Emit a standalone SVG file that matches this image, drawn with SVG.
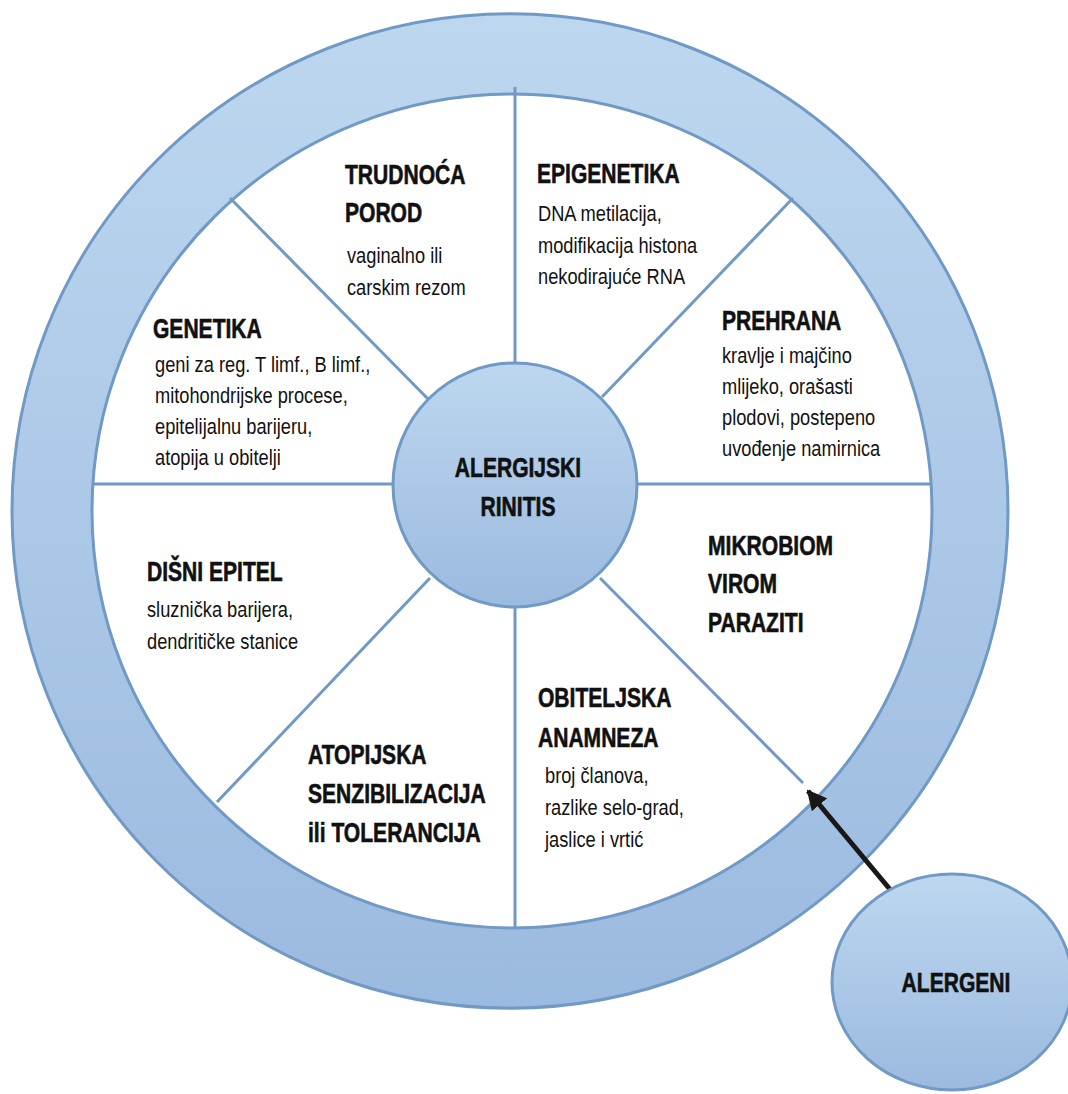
<svg xmlns="http://www.w3.org/2000/svg" width="1068" height="1094" viewBox="0 0 1068 1094">
<defs>
<linearGradient id="gRing" gradientUnits="userSpaceOnUse" x1="0" y1="14" x2="0" y2="1008">
<stop offset="0" stop-color="#BDD7EF"/>
<stop offset="1" stop-color="#9BBADF"/>
</linearGradient>
<linearGradient id="gCore" x1="0" y1="0" x2="0" y2="1">
<stop offset="0" stop-color="#BDD7EF"/>
<stop offset="1" stop-color="#9BBADF"/>
</linearGradient>
<marker id="arr" viewBox="0 0 10 10" refX="9" refY="5" markerWidth="4" markerHeight="4" orient="auto" markerUnits="strokeWidth">
<path d="M0,0 L10,5 L0,10 z" fill="#1a1717"/>
</marker>
<style>
.spoke{stroke:#7099C5;stroke-width:3;fill:none}
.edge{stroke:#7099C5;stroke-width:3}
.h{font-family:"Liberation Sans",Arial,sans-serif;font-weight:bold;font-size:27px;fill:#111;stroke:#111;stroke-width:0.6}
.b{font-family:"Liberation Sans",Arial,sans-serif;font-size:22px;fill:#111}
</style>
</defs>
<g id="ring">
<path d="M12,511 A498,497 0 1,0 1008,511 A498,497 0 1,0 12,511 Z M92,511 A420,417 0 1,0 932,511 A420,417 0 1,0 92,511 Z" fill="url(#gRing)" fill-rule="evenodd" class="edge"/>
</g>
<g id="connectors">
<line class="spoke" x1="515" y1="87" x2="515" y2="362"/>
<line class="spoke" x1="515" y1="607" x2="515" y2="928"/>
<line class="spoke" x1="93" y1="484" x2="393" y2="484"/>
<line class="spoke" x1="637" y1="484" x2="932" y2="484"/>
<line class="spoke" x1="230" y1="198" x2="428" y2="399"/>
<line class="spoke" x1="793" y1="198" x2="602" y2="397"/>
<line class="spoke" x1="217" y1="802" x2="430" y2="578"/>
<line class="spoke" x1="803" y1="783" x2="600" y2="578"/>
<line x1="893" y1="893" x2="808" y2="791" stroke="#1a1717" stroke-width="5" marker-end="url(#arr)"/>
</g>
<g id="center">
<circle cx="515" cy="485" r="122" fill="url(#gCore)" class="edge"/>
<text class="h" text-anchor="middle" transform="matrix(0.78 0 0 1 518 477)">ALERGIJSKI</text>
<text class="h" text-anchor="middle" transform="matrix(0.78 0 0 1 518 516)">RINITIS</text>
</g>
<g id="trudnoca">
<text class="h" transform="matrix(0.78 0 0 1 345 184)">TRUDNOĆA</text>
<text class="h" transform="matrix(0.78 0 0 1 345 222)">POROD</text>
<text class="b" transform="matrix(0.83 0 0 1 347 263)">vaginalno ili</text>
<text class="b" transform="matrix(0.83 0 0 1 347 295)">carskim rezom</text>
</g>
<g id="epigenetika">
<text class="h" transform="matrix(0.78 0 0 1 537 183)">EPIGENETIKA</text>
<text class="b" transform="matrix(0.83 0 0 1 538 221)">DNA metilacija,</text>
<text class="b" transform="matrix(0.83 0 0 1 538 253)">modifikacija histona</text>
<text class="b" transform="matrix(0.83 0 0 1 538 284)">nekodirajuće RNA</text>
</g>
<g id="genetika">
<text class="h" transform="matrix(0.78 0 0 1 153 338)">GENETIKA</text>
<text class="b" transform="matrix(0.83 0 0 1 155 372)">geni za reg. T limf., B limf.,</text>
<text class="b" transform="matrix(0.83 0 0 1 155 403)">mitohondrijske procese,</text>
<text class="b" transform="matrix(0.83 0 0 1 155 434)">epitelijalnu barijeru,</text>
<text class="b" transform="matrix(0.83 0 0 1 155 465)">atopija u obitelji</text>
</g>
<g id="prehrana">
<text class="h" transform="matrix(0.78 0 0 1 722 330)">PREHRANA</text>
<text class="b" transform="matrix(0.83 0 0 1 722 363)">kravlje i majčino</text>
<text class="b" transform="matrix(0.83 0 0 1 722 394)">mlijeko, orašasti</text>
<text class="b" transform="matrix(0.83 0 0 1 722 425)">plodovi, postepeno</text>
<text class="b" transform="matrix(0.83 0 0 1 722 456)">uvođenje namirnica</text>
</g>
<g id="mikrobiom">
<text class="h" transform="matrix(0.78 0 0 1 708 555)">MIKROBIOM</text>
<text class="h" transform="matrix(0.78 0 0 1 708 593)">VIROM</text>
<text class="h" transform="matrix(0.78 0 0 1 708 632)">PARAZITI</text>
</g>
<g id="disni">
<text class="h" transform="matrix(0.78 0 0 1 147 581)">DIŠNI EPITEL</text>
<text class="b" transform="matrix(0.83 0 0 1 147 617)">sluznička barijera,</text>
<text class="b" transform="matrix(0.83 0 0 1 147 649)">dendritičke stanice</text>
</g>
<g id="obiteljska">
<text class="h" transform="matrix(0.78 0 0 1 538 707)">OBITELJSKA</text>
<text class="h" transform="matrix(0.78 0 0 1 538 747)">ANAMNEZA</text>
<text class="b" transform="matrix(0.83 0 0 1 545 783)">broj članova,</text>
<text class="b" transform="matrix(0.83 0 0 1 545 815)">razlike selo-grad,</text>
<text class="b" transform="matrix(0.83 0 0 1 545 847)">jaslice i vrtić</text>
</g>
<g id="atopijska">
<text class="h" transform="matrix(0.78 0 0 1 308 764)">ATOPIJSKA</text>
<text class="h" transform="matrix(0.78 0 0 1 308 803)">SENZIBILIZACIJA</text>
<text class="h" transform="matrix(0.78 0 0 1 308 842)">ili TOLERANCIJA</text>
</g>
<g id="alergeni">
<ellipse cx="952" cy="982" rx="120" ry="108" fill="url(#gCore)" class="edge"/>
<text class="h" text-anchor="middle" transform="matrix(0.78 0 0 1 956 992)">ALERGENI</text>
</g>
</svg>
